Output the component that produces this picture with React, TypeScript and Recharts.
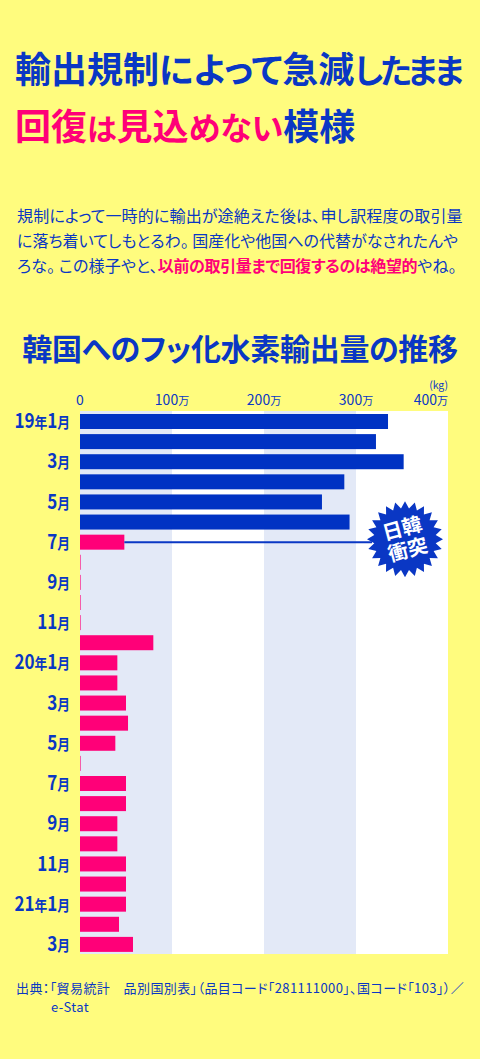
import React from "react";
import { BarChart, Bar, XAxis, YAxis, ReferenceArea } from "recharts";

// 月ごとの韓国向けフッ化水素輸出量（単位：万kg）
const periods = [
  "2019-01", "2019-02", "2019-03", "2019-04", "2019-05", "2019-06",
  "2019-07", "2019-08", "2019-09", "2019-10", "2019-11", "2019-12",
  "2020-01", "2020-02", "2020-03", "2020-04", "2020-05", "2020-06",
  "2020-07", "2020-08", "2020-09", "2020-10", "2020-11", "2020-12",
  "2021-01", "2021-02", "2021-03",
];
const exportVolume = [
  334.8, 321.7, 351.8, 287.3, 263, 293,
  48.2, 0, 0.3, 0.3, 0.4, 79.7,
  40.6, 40.6, 50, 52.2, 38.4, 0.4,
  50, 50, 40.6, 40.6, 50, 50,
  50, 42.4, 57.6,
];
const tickLabels = [
  "19年1月", "", "3月", "", "5月", "", "7月", "", "9月", "", "11月", "",
  "20年1月", "", "3月", "", "5月", "", "7月", "", "9月", "", "11月", "",
  "21年1月", "", "3月",
];
const xTicks = [0, 100, 200, 300, 400];
const restrictionStart = "2019-07";
const eventPeriod = "2019-07";
const eventText = ["日韓", "衝突"];

const BLUE = "#0a37c4";
const BAR_BLUE = "#0032c3";
const PINK = "#ff0078";
const YELLOW = "#fffc7e";
const LAVENDER = "#e3e9f7";

const data = periods.map((p, i) => ({ period: p, value: exportVolume[i] }));

const Badge = ({ x0, cy }: { x0: number; cy: number }) => {
  const cx = 405;
  const cyb = cy - 3;
  const r1 = 38;
  const r2 = 31;
  const n = 24;
  const pts: string[] = [];
  for (let i = 0; i < n * 2; i++) {
    const a = (Math.PI * i) / n - Math.PI / 2;
    const r = i % 2 === 0 ? r1 : r2;
    pts.push(`${(cx + r * Math.cos(a)).toFixed(1)},${(cyb + r * Math.sin(a)).toFixed(1)}`);
  }
  return (
    <g>
      <line x1={x0} y1={cy} x2={cx - 33} y2={cy} stroke={BLUE} strokeWidth={2} />
      <polygon points={pts.join(" ")} fill={BLUE} />
      <g transform={`rotate(-15 ${cx} ${cyb})`}>
        <text x={cx} y={cyb - 4} textAnchor="middle" fill="#fff" fontSize={20} fontWeight={700}>
          {eventText[0]}
        </text>
        <text x={cx} y={cyb + 18} textAnchor="middle" fill="#fff" fontSize={20} fontWeight={700}>
          {eventText[1]}
        </text>
      </g>
    </g>
  );
};

const BarShape = (props: any) => {
  const { x, y, width, height, payload } = props;
  const fill = payload.period >= restrictionStart ? PINK : BAR_BLUE;
  return (
    <g>
      <rect x={x} y={y} width={Math.max(width, 0.6)} height={height} fill={fill} />
      {payload.period === eventPeriod && <Badge x0={x + width} cy={y + height / 2} />}
    </g>
  );
};

const YTick = (props: any) => {
  const { x, y, payload } = props;
  const label = tickLabels[periods.indexOf(payload.value)] || "";
  if (!label) return null;
  const parts = label.match(/\d+|\D/g) || [];
  return (
    <g transform={`translate(${x} ${y}) scale(0.85 1)`}>
      <text x={0} y={0} dy={7} textAnchor="end" fill={BLUE} fontWeight={700}>
        {parts.map((p, i) => (
          <tspan key={i} fontSize={/\d/.test(p) ? 20 : 15}>
            {p}
          </tspan>
        ))}
      </text>
    </g>
  );
};

const XTick = (props: any) => {
  const { x, y, payload } = props;
  const v = payload.value;
  const last = v === xTicks[xTicks.length - 1];
  return (
    <g>
      {last && (
        <text x={x} y={y - 15} textAnchor="end" fill={BLUE} fontSize={10.5}>
          (kg)
        </text>
      )}
      <text x={x} y={y + 1} textAnchor={last ? "end" : "middle"} fill={BLUE}>
        <tspan fontSize={14}>{v}</tspan>
        {v !== 0 && <tspan fontSize={11}>万</tspan>}
      </text>
    </g>
  );
};

export default function App() {
  return (
    <div
      style={{
        position: "absolute",
        left: 0,
        top: 0,
        width: 480,
        height: 1059,
        background: YELLOW,
        fontFamily: "'Noto Sans CJK JP', sans-serif",
        color: BLUE,
        overflow: "hidden",
      }}
    >
      <div
        style={{
          position: "absolute",
          left: 15,
          top: 40,
          fontSize: 36,
          lineHeight: "55px",
          fontWeight: 700,
          fontFeatureSettings: "'palt'",
          whiteSpace: "nowrap",
        }}
      >
        <div>
          輸出規制<span style={{ fontSize: 35.5 }}>によって</span>急減
          <span style={{ fontSize: 33, letterSpacing: -3 }}>したまま</span>
        </div>
        <div>
          <span style={{ color: PINK }}>回復</span>
          <span style={{ color: PINK, fontSize: 30 }}>は</span>
          <span style={{ color: PINK }}>見込</span>
          <span style={{ color: PINK, fontSize: 32 }}>めない</span>
          <span>模様</span>
        </div>
      </div>

      <div
        style={{
          position: "absolute",
          left: 17,
          top: 203,
          fontSize: 16,
          lineHeight: "25px",
          letterSpacing: 0.15,
          fontFeatureSettings: "'palt'",
          whiteSpace: "nowrap",
        }}
      >
        <div>規制によって一時的に輸出が途絶えた後は、申し訳程度の取引量</div>
        <div style={{ letterSpacing: 0 }}>に落ち着いてしもとるわ。 国産化や他国への代替がなされたんや</div>
        <div>
          ろな。 この様子やと、
          <span style={{ color: PINK, fontWeight: 700, letterSpacing: -0.35 }}>
            以前の取引量まで回復するのは絶望的
          </span>
          やね。
        </div>
      </div>

      <div
        style={{
          position: "absolute",
          left: 0,
          width: 480,
          top: 332,
          textAlign: "center",
          fontSize: 30,
          lineHeight: "30px",
          letterSpacing: -0.3,
          fontWeight: 700,
          fontFeatureSettings: "'palt'",
        }}
      >
        韓国へのフッ化水素輸出量の推移
      </div>

      <div style={{ position: "absolute", left: 0, top: 360 }}>
        <BarChart
          width={480}
          height={600}
          data={data}
          layout="vertical"
          margin={{ top: 21, right: 32, bottom: 6, left: 0 }}
          barSize={15}
        >
          <ReferenceArea x1={0} x2={100} fill={LAVENDER} fillOpacity={1} stroke="none" />
          <ReferenceArea x1={100} x2={200} fill="#ffffff" fillOpacity={1} stroke="none" />
          <ReferenceArea x1={200} x2={300} fill={LAVENDER} fillOpacity={1} stroke="none" />
          <ReferenceArea x1={300} x2={400} fill="#ffffff" fillOpacity={1} stroke="none" />
          <XAxis
            type="number"
            orientation="top"
            domain={[0, 400]}
            ticks={xTicks}
            tickLine={false}
            axisLine={false}
            tickSize={0}
            tickMargin={7}
            height={30}
            tick={<XTick />}
            interval={0}
          />
          <YAxis
            type="category"
            dataKey="period"
            width={80}
            tickLine={false}
            axisLine={false}
            tickSize={0}
            tickMargin={10}
            interval={0}
            tick={<YTick />}
          />
          <Bar dataKey="value" isAnimationActive={false} shape={<BarShape />} />
        </BarChart>
      </div>

      <div
        style={{
          position: "absolute",
          left: 16,
          top: 978,
          fontSize: 13,
          lineHeight: "19px",
          letterSpacing: 0.4,
          fontFeatureSettings: "'palt'",
          whiteSpace: "nowrap",
        }}
      >
        <div>出典：「貿易統計　品別国別表」（品目コード「281111000」、国コード「103」）／</div>
        <div style={{ paddingLeft: 35 }}>e-Stat</div>
      </div>
    </div>
  );
}
